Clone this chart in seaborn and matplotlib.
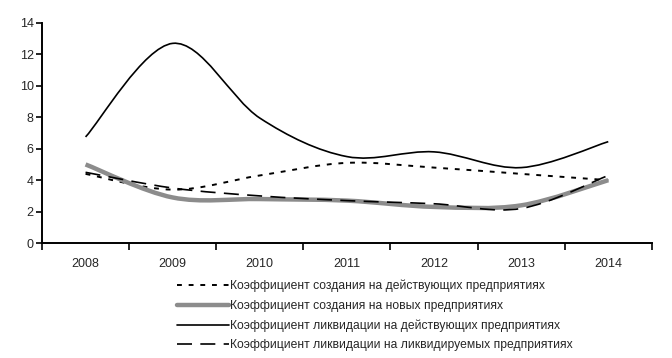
import numpy as np
import matplotlib
matplotlib.use('Agg')
import matplotlib.pyplot as plt
from matplotlib.path import Path
from matplotlib.patches import PathPatch
from matplotlib.lines import Line2D
import seaborn as sns

years = ["2008", "2009", "2010", "2011", "2012", "2013", "2014"]
create_active = [4.4, 3.4, 4.3, 5.1, 4.8, 4.4, 4.0]
create_new = [5.0, 2.9, 2.8, 2.7, 2.3, 2.4, 4.0]
liquid_active = [6.75, 12.7, 7.95, 5.5, 5.8, 4.8, 6.45]
liquid_liquid = [4.5, 3.5, 3.0, 2.7, 2.5, 2.2, 4.3]

labels = [
    "Коэффициент создания на действующих предприятиях",
    "Коэффициент создания на новых предприятиях",
    "Коэффициент ликвидации на действующих предприятиях",
    "Коэффициент ликвидации на ликвидируемых предприятиях",
]

sns.set_style("white")
plt.rcParams['font.family'] = ['Liberation Sans', 'DejaVu Sans']


def smooth_path(xs, ys):
    # Excel-like smoothed line: Catmull-Rom segments as cubic Bezier
    pts = np.column_stack([xs, ys]).astype(float)
    verts = [pts[0]]
    codes = [Path.MOVETO]
    n = len(pts)
    for i in range(n - 1):
        p0 = pts[max(i - 1, 0)]
        p1 = pts[i]
        p2 = pts[i + 1]
        p3 = pts[min(i + 2, n - 1)]
        c1 = p1 + (p2 - p0) / 6.0
        c2 = p2 - (p3 - p1) / 6.0
        verts += [c1, c2, p2]
        codes += [Path.CURVE4] * 3
    return Path(verts, codes)


fig = plt.figure(figsize=(6.72, 3.58), dpi=100)
ax = fig.add_axes([0.0625, 0.321, 0.9075, 0.615])

x = np.arange(len(years))
styles = [
    (create_active, dict(color="black", lw=1.4, linestyle=(0, (2.5, 3.5)))),
    (create_new, dict(color="#8c8c8c", lw=3.2, linestyle="-")),
    (liquid_active, dict(color="black", lw=1.2, linestyle="-")),
    (liquid_liquid, dict(color="black", lw=1.2, linestyle=(0, (9, 5)))),
]
handles = []
for vals, st in styles:
    patch = PathPatch(smooth_path(x, vals), facecolor="none", edgecolor=st["color"],
                      lw=st["lw"], linestyle=st["linestyle"], capstyle="butt")
    ax.add_patch(patch)
    handles.append(Line2D([], [], color=st["color"], lw=st["lw"], linestyle=st["linestyle"]))

ax.set_xlim(-0.5, len(years) - 0.5)
ax.set_ylim(0, 14)
ax.set_yticks(range(0, 15, 2))
ax.set_xticks(np.arange(-0.5, len(years), 1.0))
ax.set_xticklabels([])
ax.set_xticks(x, minor=True)
ax.set_xticklabels(years, minor=True)
ax.tick_params(axis="x", which="minor", length=0, pad=11, labelsize=9)
ax.tick_params(axis="x", which="major", length=5, width=1.2, direction="out", color="black", bottom=True)
ax.tick_params(axis="y", length=4, width=1.2, direction="out", color="black", left=True, labelsize=9, pad=2)

sns.despine(ax=ax)
for side in ["left", "bottom"]:
    ax.spines[side].set_color("black")
    ax.spines[side].set_linewidth(1.4)

fig.legend(handles, labels, loc="upper left", bbox_to_anchor=(0.263, 0.218),
           frameon=False, fontsize=8.7, handlelength=4.3, handletextpad=0.1,
           labelspacing=0.62, borderpad=0, borderaxespad=0)

fig.savefig("out.png", dpi=100)
